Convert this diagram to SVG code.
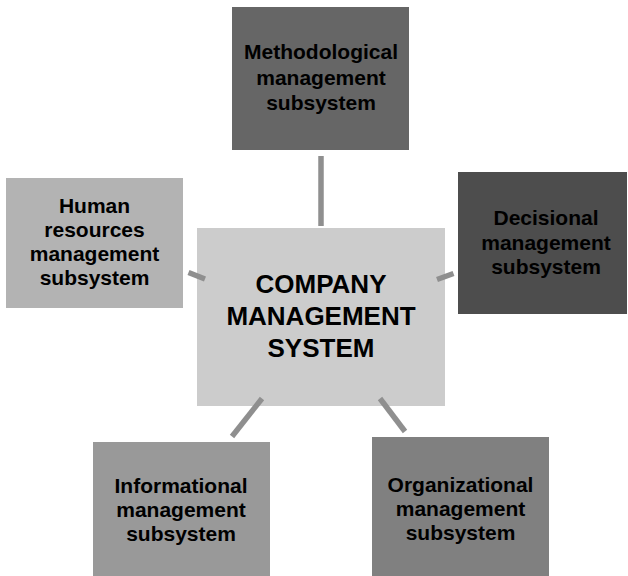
<svg xmlns="http://www.w3.org/2000/svg" width="628" height="576" viewBox="0 0 628 576">
<style>
.t{font-family:"Liberation Sans",Arial,sans-serif;font-weight:bold;font-size:21px;fill:#000;text-anchor:middle}
.c{font-size:26px}
.ln{stroke:#8f8f8f;stroke-width:5.5;fill:none}
</style>
<rect width="628" height="576" fill="#fff"/>
<g id="center">
<rect x="197" y="228" width="248" height="178" fill="#cccccc"/>
<text class="t c" x="321" y="292.5">COMPANY</text>
<text class="t c" x="321" y="324.5">MANAGEMENT</text>
<text class="t c" x="321" y="356.5">SYSTEM</text>
</g>
<g id="methodological">
<rect x="232" y="7" width="177" height="143" fill="#666666"/>
<text class="t" x="321" y="59">Methodological</text>
<text class="t" x="321" y="84.5">management</text>
<text class="t" x="321" y="110">subsystem</text>
</g>
<g id="human">
<rect x="6" y="178" width="177" height="130" fill="#b3b3b3"/>
<text class="t" x="94.5" y="213">Human</text>
<text class="t" x="94.5" y="237">resources</text>
<text class="t" x="94.5" y="261">management</text>
<text class="t" x="94.5" y="285">subsystem</text>
</g>
<g id="decisional">
<rect x="458" y="172" width="169" height="142" fill="#4d4d4d"/>
<text class="t" x="546" y="225">Decisional</text>
<text class="t" x="546" y="249.5">management</text>
<text class="t" x="546" y="273.5">subsystem</text>
</g>
<g id="informational">
<rect x="93" y="442" width="177" height="140" fill="#999999"/>
<text class="t" x="181" y="492.5">Informational</text>
<text class="t" x="181" y="516.5">management</text>
<text class="t" x="181" y="541">subsystem</text>
</g>
<g id="organizational">
<rect x="372" y="437" width="177" height="145" fill="#808080"/>
<text class="t" x="460.5" y="491.5">Organizational</text>
<text class="t" x="460.5" y="515.5">management</text>
<text class="t" x="460.5" y="540">subsystem</text>
</g>
<g id="connectors">
<line class="ln" x1="321" y1="156" x2="321" y2="226"/>
<line class="ln" x1="188.5" y1="272.5" x2="205" y2="279"/>
<line class="ln" x1="437" y1="279.5" x2="453.5" y2="273.5"/>
<line class="ln" x1="262" y1="398.5" x2="232" y2="436.5"/>
<line class="ln" x1="380" y1="398.5" x2="405" y2="431.5"/>
</g>
</svg>
